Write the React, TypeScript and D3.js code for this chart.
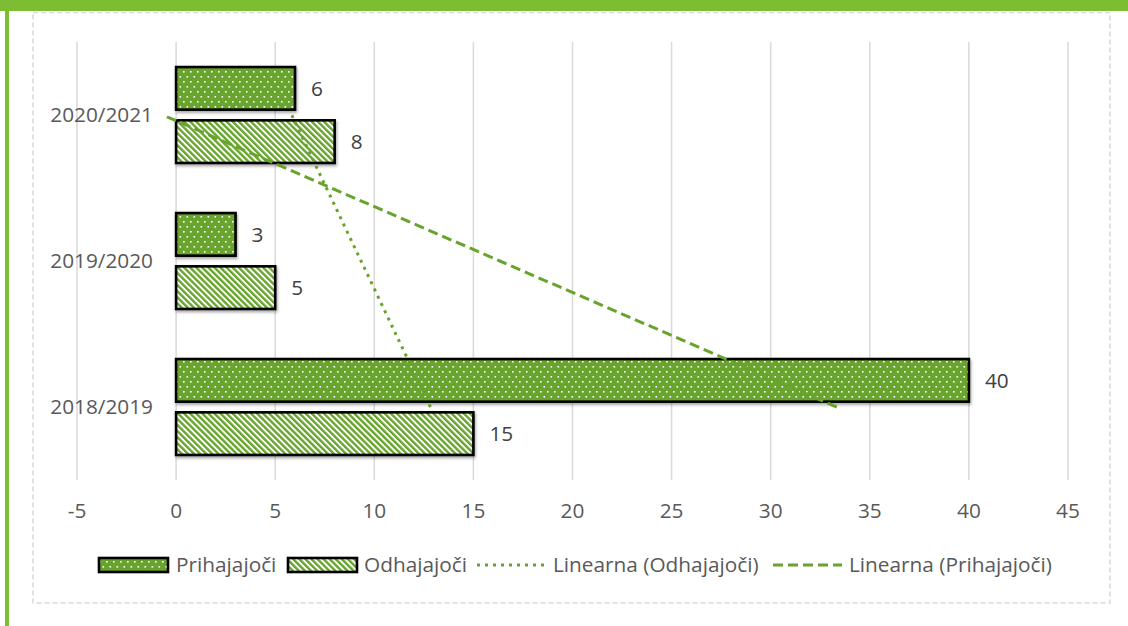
import React from "react";
import * as d3 from "d3";

const categories = ["2020/2021", "2019/2020", "2018/2019"];
const excelOrder = ["2018/2019", "2019/2020", "2020/2021"];
const seriesNames = ["Prihajajoči", "Odhajajoči"];
const prihajajoci = [6, 3, 40];
const odhajajoci = [8, 5, 15];
const xTicks = [-5, 0, 5, 10, 15, 20, 25, 30, 35, 40, 45];
const legendLabels = ["Prihajajoči", "Odhajajoči", "Linearna (Odhajajoči)", "Linearna (Prihajajoči)"];

const W = 1128;
const H = 626;
const GREEN = "#68a42d";
const FRAME = "#7dbd33";
const FONT = "'Open Sans', sans-serif";
const FS = 20.8;

function fit(vals: number[]) {
  const xs = vals.map((_, i) => i + 1);
  const mx = d3.mean(xs) as number;
  const my = d3.mean(vals) as number;
  let num = 0, den = 0;
  xs.forEach((x, i) => { num += (x - mx) * (vals[i] - my); den += (x - mx) ** 2; });
  const slope = num / den;
  const b = my - slope * mx;
  return (k: number) => b + slope * k;
}

export default function App() {
  const x = d3.scaleLinear().domain([-5, 45]).range([77, 1068]);
  const y = d3.scaleBand<string>().domain(categories).range([42, 480]);
  const inner = d3.scaleBand<string>().domain(seriesNames).range([0, y.bandwidth()]).paddingInner(0.2).paddingOuter(0.47);
  const valueOf = (s: string, c: string) => {
    const i = categories.indexOf(c);
    return s === "Prihajajoči" ? prihajajoci[i] : odhajajoci[i];
  };
  const fillOf = (s: string) => (s === "Prihajajoči" ? "url(#dots)" : "url(#diag)");

  const trend = (vals: number[]) => {
    const ordered = excelOrder.map((c) => vals[categories.indexOf(c)]);
    const f = fit(ordered);
    return excelOrder.map((c, i) => [x(f(i + 1)), (y(c) as number) + y.bandwidth() / 2] as [number, number]);
  };
  const line = d3.line();
  const tOd = trend(odhajajoci);
  const tPr = trend(prihajajoci);

  const legY = 565;
  const legendItems = [
    { kind: "rect", fill: "url(#dots)", sx: 99, tx: 176 },
    { kind: "rect", fill: "url(#diag)", sx: 288, tx: 364 },
    { kind: "dot", sx: 477, tx: 553 },
    { kind: "dash", sx: 773, tx: 849 },
  ];

  return (
    <svg width={W} height={H} style={{ position: "absolute", left: 0, top: 0, background: "#fff" }} fontFamily={FONT}>
      <defs>
        <pattern id="dots" width={7} height={10} patternUnits="userSpaceOnUse">
          <rect width={7} height={10} fill={GREEN} />
          <rect x={1} y={1} width={1.6} height={1.6} fill="#fff" />
          <rect x={4.5} y={6} width={1.6} height={1.6} fill="#fff" />
        </pattern>
        <pattern id="diag" width={4.3} height={10} patternUnits="userSpaceOnUse" patternTransform="rotate(-45)">
          <rect width={4.3} height={10} fill="#fff" />
          <rect width={2.4} height={10} fill={GREEN} />
        </pattern>
        <filter id="shadow" x="-5%" y="-20%" width="110%" height="150%">
          <feDropShadow dx={1} dy={2} stdDeviation={1.6} floodColor="#000" floodOpacity={0.35} />
        </filter>
      </defs>

      <rect x={0} y={0} width={W} height={11} fill={FRAME} />
      <rect x={5} y={11} width={4} height={H - 11} fill={FRAME} />
      <rect x={33} y={12.5} width={1077} height={590.5} fill="none" stroke="#d9d9d9" strokeWidth={1.5} strokeDasharray="5 3" />

      {xTicks.map((t) => (
        <line key={t} x1={x(t)} x2={x(t)} y1={42} y2={480} stroke="#d9d9d9" strokeWidth={1.5} />
      ))}

      {categories.map((c) =>
        seriesNames.map((s) => {
          const v = valueOf(s, c);
          const by = (y(c) as number) + (inner(s) as number);
          return (
            <g key={c + s}>
              <rect x={x(0)} y={by} width={x(v) - x(0)} height={inner.bandwidth()} fill={fillOf(s)} stroke="#000" strokeWidth={2.6} filter="url(#shadow)" />
              <text x={x(v) + 16} y={by + inner.bandwidth() / 2} dy="0.35em" fontSize={FS} fill="#404040">{v}</text>
            </g>
          );
        })
      )}

      <path d={line(tOd) as string} fill="none" stroke={GREEN} strokeWidth={3} strokeDasharray="3 5" />
      <path d={line(tPr) as string} fill="none" stroke={GREEN} strokeWidth={3} strokeDasharray="10 5" />

      {categories.map((c) => (
        <text key={c} x={153} y={(y(c) as number) + y.bandwidth() / 2} dy="0.35em" textAnchor="end" fontSize={FS} fill="#595959">{c}</text>
      ))}

      {xTicks.map((t) => (
        <text key={t} x={x(t)} y={511} dy="0.35em" textAnchor="middle" fontSize={FS} fill="#595959">{t}</text>
      ))}

      {legendItems.map((it, i) => (
        <g key={i}>
          {it.kind === "rect" ? (
            <rect x={it.sx} y={legY - 7} width={69} height={14} fill={it.fill} stroke="#000" strokeWidth={2.6} />
          ) : (
            <line x1={it.sx} x2={it.sx + 69} y1={legY} y2={legY} stroke={GREEN} strokeWidth={3} strokeDasharray={it.kind === "dot" ? "3 5" : "10 5"} />
          )}
          <text x={it.tx} y={legY} dy="0.35em" fontSize={FS} fill="#595959">{legendLabels[i]}</text>
        </g>
      ))}
    </svg>
  );
}
